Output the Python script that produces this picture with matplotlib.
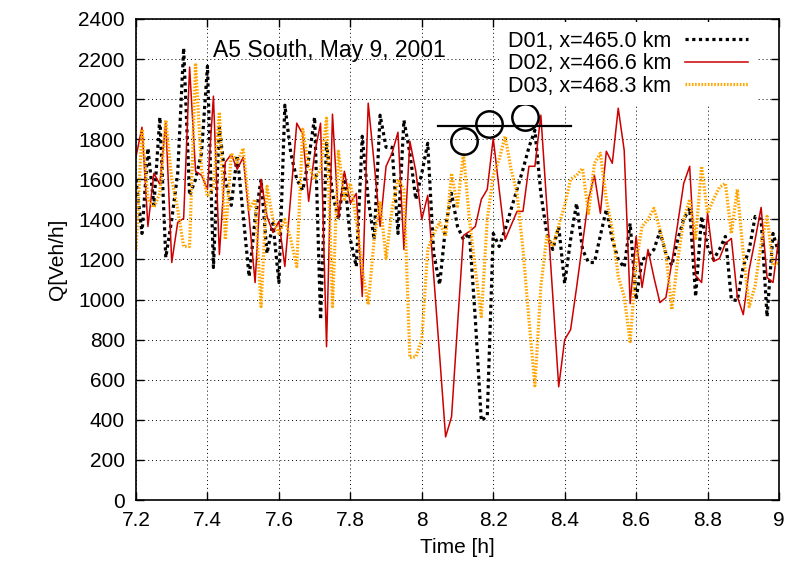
import numpy as np
import matplotlib
matplotlib.use("Agg")
import matplotlib.pyplot as plt
from matplotlib.ticker import FormatStrFormatter
from matplotlib import font_manager

names = {f.name for f in font_manager.fontManager.ttflist}
narrow = 'Liberation Sans Narrow' if 'Liberation Sans Narrow' in names else 'Liberation Sans'
plt.rcParams['font.family'] = ['Liberation Sans', 'DejaVu Sans']

# one value per minute, 7.2 h .. 9.0 h
start_h = 7.2
minutes = np.arange(109)
time_h = start_h + minutes / 60.0

d01 = [1600, 1330, 1755, 1470, 1910, 1210, 1400, 1630, 2255, 1520,
       1600, 1730, 2165, 1160, 1860, 1600, 1470, 1720, 1420, 1115,
       1400, 1600, 1230, 1380, 1085, 1970, 1730, 1600, 1545, 1700,
       1910, 900, 1780, 1530, 1400, 1620, 1300, 1165, 1815, 1500,
       1300, 1920, 1760, 1760, 1330, 1895, 1730, 1500, 1630, 1780,
       1230, 1075, 1365, 1530, 1365, 1300, 1330, 900, 395, 420,
       1330, 1265, 1350, 1450, 1550, 1650, 1760, 1845, 1530, 1330,
       1250, 1365, 1080, 1300, 1480, 1250, 1185, 1185, 1320, 1450,
       1300, 1200, 1160, 1380, 1000, 1200, 1215, 1250, 1340, 1230,
       1170, 1300, 1400, 1455, 1015, 1415, 1265, 1200, 1250, 1315,
       1000, 995, 1165, 1250, 1415, 1400, 915, 1330, 1230]

d02 = [1713, 1860, 1365, 1630, 1575, 1885, 1185, 1385, 1405, 2160,
       1640, 1620, 1550, 2015, 1225, 1685, 1725, 1650, 1710, 1410,
       1085, 1600, 1415, 1335, 1390, 1165, 1520, 1880, 1825, 1490,
       1730, 1880, 765, 1925, 1410, 1640, 1480, 1530, 1015, 1980,
       1680, 1365, 1665, 1730, 1835, 1250, 1790, 1640, 1400, 1520,
       1120, 720, 315, 415, 870, 1320, 1340, 1365, 1500, 1550,
       1805, 1550, 1300, 1370, 1440, 1440, 1665, 1665, 1920, 1470,
       1020, 565, 800, 850, 1060, 1280, 1500, 1620, 1430, 1740,
       1680, 1955, 1745, 980, 1315, 1060, 1250, 1110, 985, 1010,
       1185, 1380, 1580, 1665, 1120, 1085, 1430, 1190, 1205, 1280,
       1305, 1015, 925, 1150, 1300, 1460, 1110, 1085, 1315]

d03 = [1250, 1850, 1500, 1460, 1530, 1895, 1600, 1450, 1265, 1265,
       2180, 1650, 1515, 1560, 1935, 1300, 1730, 1685, 1755, 1450,
       1500, 965, 1565, 1400, 1330, 1400, 1300, 1165, 1850, 1665,
       1600, 1650, 1905, 965, 1740, 1500, 1580, 1400, 1150, 975,
       1300, 1490, 1205, 1450, 1600, 1550, 710, 715, 800, 1250,
       1330, 1385, 1315, 1630, 1465, 1730, 1400, 1150, 915, 1400,
       1620, 1700, 1815, 1650, 1530, 1250, 900, 570, 1065, 1315,
       1265, 1370, 1470, 1600, 1620, 1655, 1430, 1680, 1730, 1500,
       1350, 1115, 1015, 790, 1185, 1365, 1400, 1455, 1350, 1230,
       950, 1200, 1400, 1500, 1305, 1665, 1430, 1500, 1560, 1580,
       1330, 1550, 1230, 965, 1070, 1280, 1415, 1170, 1185]

labels = ["D01, x=465.0 km", "D02, x=466.6 km", "D03, x=468.3 km"]

# marked peaks and the capacity line
peak_t = [8.119, 8.189, 8.289]
peak_q = [1793, 1876, 1910]
cap_t = [8.045, 8.418]
cap_q = 1867

fig = plt.figure(figsize=(7.89, 5.70), dpi=100)
ax = fig.add_axes([0.1724, 0.1228, 0.8149, 0.8439])

ax.plot(time_h, d01, color='black', lw=2.3, dashes=(1, 1.1), label=labels[0])
ax.plot(time_h, d02, color='#cc0000', lw=1.1, label=labels[1])
ax.plot(time_h, d03, color='#ffa500', lw=2.3, dashes=(0.5, 0.5), label=labels[2])

ax.plot(cap_t, [cap_q, cap_q], color='black', lw=1.6)
ax.plot(peak_t, peak_q, 'o', ms=19, mfc='none', mec='black', mew=1.8, ls='none')

ax.text(7.415, 2210, "A5 South, May 9, 2001", fontsize=16.5, va='baseline')

ax.set_xlim(7.2, 9.0)
ax.set_ylim(0, 2400)
ax.set_xticks(np.arange(7.2, 9.01, 0.2))
ax.set_yticks(np.arange(0, 2401, 200))
ax.xaxis.set_major_formatter(FormatStrFormatter('%g'))
ax.tick_params(direction='in', top=True, right=True, length=6, width=1,
               labelsize=15, pad=8)
for lab in ax.get_xticklabels() + ax.get_yticklabels():
    lab.set_family(narrow)
ax.grid(True, color='black', ls=(0, (1, 3)), lw=0.7)
for s in ax.spines.values():
    s.set_linewidth(1.2)

ax.set_xlabel("Time [h]", fontsize=15, labelpad=6, family=narrow)
ax.set_ylabel("Q[Veh/h]", fontsize=15, labelpad=8, family=narrow)

leg = ax.legend(loc='upper right', markerfirst=False, fontsize=15.5,
                handlelength=2.9, handletextpad=0.65, labelspacing=0.06,
                borderpad=0.4, borderaxespad=0.0,
                fancybox=False, framealpha=1, edgecolor='none',
                bbox_to_anchor=(0.965, 0.993))
leg.get_frame().set_facecolor('white')

fig.savefig("out.png", dpi=100)
